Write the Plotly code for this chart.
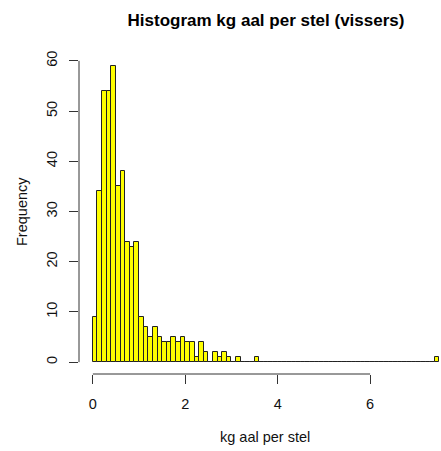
import plotly.graph_objects as go

title = "Histogram kg aal per stel (vissers)"
x_label = "kg aal per stel"
y_label = "Frequency"

bin_start = 0.0
bin_width = 0.1
counts = [9, 34, 54, 54, 59, 35, 38, 24, 23, 24,
          9, 7, 5, 7, 5, 4, 4, 5, 4, 5,
          4, 4, 1, 4, 2, 0, 2, 1, 2, 1,
          0, 1, 0, 0, 0, 1] + [0] * 38 + [1]

x_ticks = [0, 2, 4, 6]
y_ticks = [0, 10, 20, 30, 40, 50, 60]

centers = [bin_start + bin_width * (i + 0.5) for i in range(len(counts))]

W, H = 441, 451
ML, MR, MT, MB = 79, 0, 54, 77
fig = go.Figure()
fig.add_trace(go.Bar(
    x=centers, y=counts, width=[bin_width] * len(counts),
    marker=dict(color="#FFFF00", line=dict(color="#222222", width=1)),
    hoverinfo="x+y",
))

FAM = "Liberation Sans, Arial, sans-serif"
tickfont = dict(family=FAM, size=14.5, color="#111111")

fig.update_layout(
    width=W, height=H,
    margin=dict(l=ML, r=MR, t=MT, b=MB, autoexpand=False),
    paper_bgcolor="white", plot_bgcolor="white",
    showlegend=False,
    bargap=0,
    font=dict(family=FAM, size=14.5, color="#111111"),
    title=dict(text="<b>" + title + "</b>", x=266 / W, xanchor="center",
               y=1 - 20 / H, yanchor="middle",
               font=dict(family=FAM, size=17, color="#000000")),
    xaxis=dict(range=[-0.3, 7.535], tickvals=x_ticks, ticktext=[str(v) for v in x_ticks],
               showgrid=False, zeroline=False, showline=False, automargin=False,
               ticks="outside", ticklen=9, tickwidth=1, tickcolor="#333333",
               ticklabelstandoff=8, tickfont=tickfont),
    yaxis=dict(range=[-2.36, 61.36], tickvals=y_ticks, ticktext=[str(v) for v in y_ticks],
               showgrid=False, zeroline=False, showline=False, automargin=False,
               ticks="outside", ticklen=9, tickwidth=1, tickcolor="#333333",
               tickangle=-90, ticklabelstandoff=6, tickfont=tickfont),
    shapes=[
        dict(type="line", xref="x", yref="paper", x0=x_ticks[0], x1=x_ticks[-1], y0=0, y1=0,
             line=dict(color="#333333", width=1)),
        dict(type="line", xref="paper", yref="y", x0=0, x1=0, y0=y_ticks[0], y1=y_ticks[-1],
             line=dict(color="#333333", width=1)),
    ],
    annotations=[
        dict(text=x_label, xref="paper", yref="paper",
             x=(265 - ML) / (W - ML - MR), y=-(437 - (H - MB)) / (H - MT - MB),
             xanchor="center", yanchor="middle", showarrow=False,
             font=dict(family=FAM, size=14.5, color="#111111")),
        dict(text=y_label, xref="paper", yref="paper", textangle=-90,
             x=-(ML - 22) / (W - ML - MR), y=1 - (212 - MT) / (H - MT - MB),
             xanchor="center", yanchor="middle", showarrow=False,
             font=dict(family=FAM, size=14.5, color="#111111")),
    ],
)

fig.write_html("out.html", config={"displayModeBar": False},
               post_script="document.body.style.margin='0';document.body.style.overflow='hidden';")
